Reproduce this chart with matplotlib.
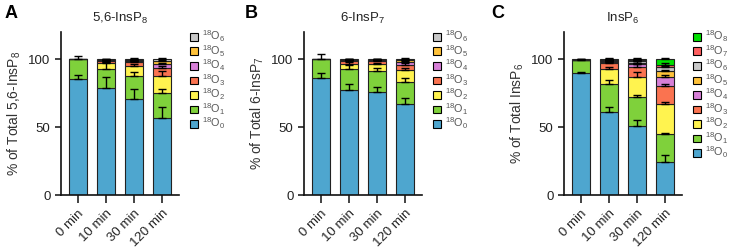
import numpy as np
import matplotlib
matplotlib.use("Agg")
import matplotlib.pyplot as plt
from matplotlib.patches import Patch

plt.rcParams['font.family'] = ['Liberation Sans', 'DejaVu Sans']
plt.rcParams['mathtext.fontset'] = 'custom'
plt.rcParams['mathtext.rm'] = 'Liberation Sans'
plt.rcParams['mathtext.it'] = 'Liberation Sans:italic'

times = ['0 min', '10 min', '30 min', '120 min']

# isotopologue fractions (%), rows = 18O0 .. 18On, columns = time points
a_vals = [
    [85.2, 78.5, 70.4, 56.8],
    [14.8, 14.5, 17.2, 18.5],
    [0.0, 4.0, 7.4, 12.0],
    [0.0, 1.5, 3.0, 6.0],
    [0.0, 0.7, 1.0, 3.0],
    [0.0, 0.4, 0.5, 2.0],
    [0.0, 0.4, 0.5, 1.7],
]
a_err = [
    [3.0, 8.5, 8.0, 8.2],
    [2.5, 5.0, 3.3, 2.5],
    [0.0, 1.0, 1.5, 4.0],
    [0.0, 0.8, 1.0, 1.5],
    [0.0, 0.5, 0.6, 1.0],
    [0.0, 0.4, 0.5, 1.0],
    [0.0, 0.4, 0.5, 0.8],
]

b_vals = [
    [86.0, 77.3, 75.8, 67.2],
    [14.0, 15.7, 15.5, 16.3],
    [0.0, 3.8, 5.0, 8.2],
    [0.0, 2.0, 2.2, 4.3],
    [0.0, 0.6, 0.8, 2.2],
    [0.0, 0.3, 0.4, 1.0],
    [0.0, 0.3, 0.3, 0.8],
]
b_err = [
    [3.6, 4.2, 4.0, 4.4],
    [3.5, 2.5, 2.5, 2.4],
    [0.0, 1.0, 1.0, 1.5],
    [0.0, 0.8, 0.7, 1.0],
    [0.0, 0.5, 0.5, 0.5],
    [0.0, 0.4, 0.4, 0.5],
    [0.0, 0.4, 0.4, 0.5],
]

c_vals = [
    [89.7, 61.4, 50.9, 24.6],
    [10.0, 20.4, 21.1, 20.4],
    [0.0, 11.3, 15.2, 22.0],
    [0.0, 4.0, 7.4, 13.5],
    [0.0, 1.0, 1.6, 6.5],
    [0.0, 0.7, 1.2, 4.0],
    [0.0, 0.5, 1.0, 3.0],
    [0.0, 0.4, 0.9, 2.0],
    [0.3, 0.3, 0.7, 4.0],
]
c_err = [
    [1.0, 3.7, 4.4, 4.5],
    [0.5, 2.5, 1.3, 1.0],
    [0.0, 1.5, 3.0, 1.5],
    [0.0, 0.8, 1.5, 1.0],
    [0.0, 0.6, 1.0, 1.0],
    [0.0, 0.6, 1.0, 1.0],
    [0.0, 0.6, 1.0, 1.0],
    [0.0, 0.6, 1.0, 1.0],
    [0.2, 0.6, 1.0, 1.0],
]

colors = ['#4ea6cf', '#7fd13b', '#fff34f', '#fa7350', '#d77fd7',
          '#ffc23a', '#c8c8c8', '#ff5f5f', '#00e000']

panels = [
    ('A', r'5,6-InsP$_8$', r'% of Total 5,6-InsP$_8$', a_vals, a_err, 0.0837, 0.006),
    ('B', r'6-InsP$_7$', r'% of Total 6-InsP$_7$', b_vals, b_err, 0.417, 0.336),
    ('C', r'InsP$_6$', r'% of Total InsP$_6$', c_vals, c_err, 0.7737, 0.674),
]

fig = plt.figure(figsize=(7.29, 2.5), dpi=100)

for letter, title, ylabel, vals, errs, left, letter_x in panels:
    ax = fig.add_axes([left, 0.22, 0.1613, 0.652])
    x = np.arange(len(times))
    vals = np.array(vals)
    errs = np.array(errs)
    bottom = np.zeros(len(times))
    handles = []
    for i in range(len(vals)):
        ax.bar(x, vals[i], bottom=bottom, width=0.64, color=colors[i],
               edgecolor='#222222', linewidth=0.8, zorder=2)
        bottom = bottom + vals[i]
        mask = vals[i] > 0
        ax.errorbar(x[mask], bottom[mask], yerr=[np.zeros(mask.sum()), errs[i][mask]],
                    fmt='none', ecolor='black', elinewidth=1.0, capsize=3,
                    capthick=1.0, zorder=3)
        handles.append(Patch(facecolor=colors[i], edgecolor='black', linewidth=0.8,
                             label=r'$^{18}$O$_%d$' % i))

    ax.set_xlim(-0.6, 3.6)
    ax.set_ylim(0, 120)
    ax.set_yticks([0, 50, 100])
    ax.set_xticks(x)
    ax.set_xticklabels(times, rotation=45, ha='right', rotation_mode='anchor',
                       fontsize=9.5, color='#222222')
    ax.tick_params(axis='y', labelsize=9.5, length=4, width=1.2, colors='#222222')
    ax.tick_params(axis='x', length=6, width=1.2, colors='#222222', pad=3)
    for side in ['top', 'right']:
        ax.spines[side].set_visible(False)
    for side in ['left', 'bottom']:
        ax.spines[side].set_linewidth(1.2)
        ax.spines[side].set_color('#111111')

    ax.set_title(title, fontsize=9.5, pad=7, color='#222222')
    ax.set_ylabel(ylabel, fontsize=10, color='#333333', labelpad=4)
    fig.text(letter_x, 0.98, letter, fontsize=13, fontweight='bold', va='top')

    leg = ax.legend(handles=handles[::-1], loc='upper left', bbox_to_anchor=(1.1, 1.02),
                    frameon=False, fontsize=7.8, handlelength=0.7, handleheight=0.7,
                    handletextpad=0.4, labelspacing=-0.1, borderpad=0, borderaxespad=0)
    for t in leg.get_texts():
        t.set_color('#555555')

fig.savefig('out.png', dpi=100)
